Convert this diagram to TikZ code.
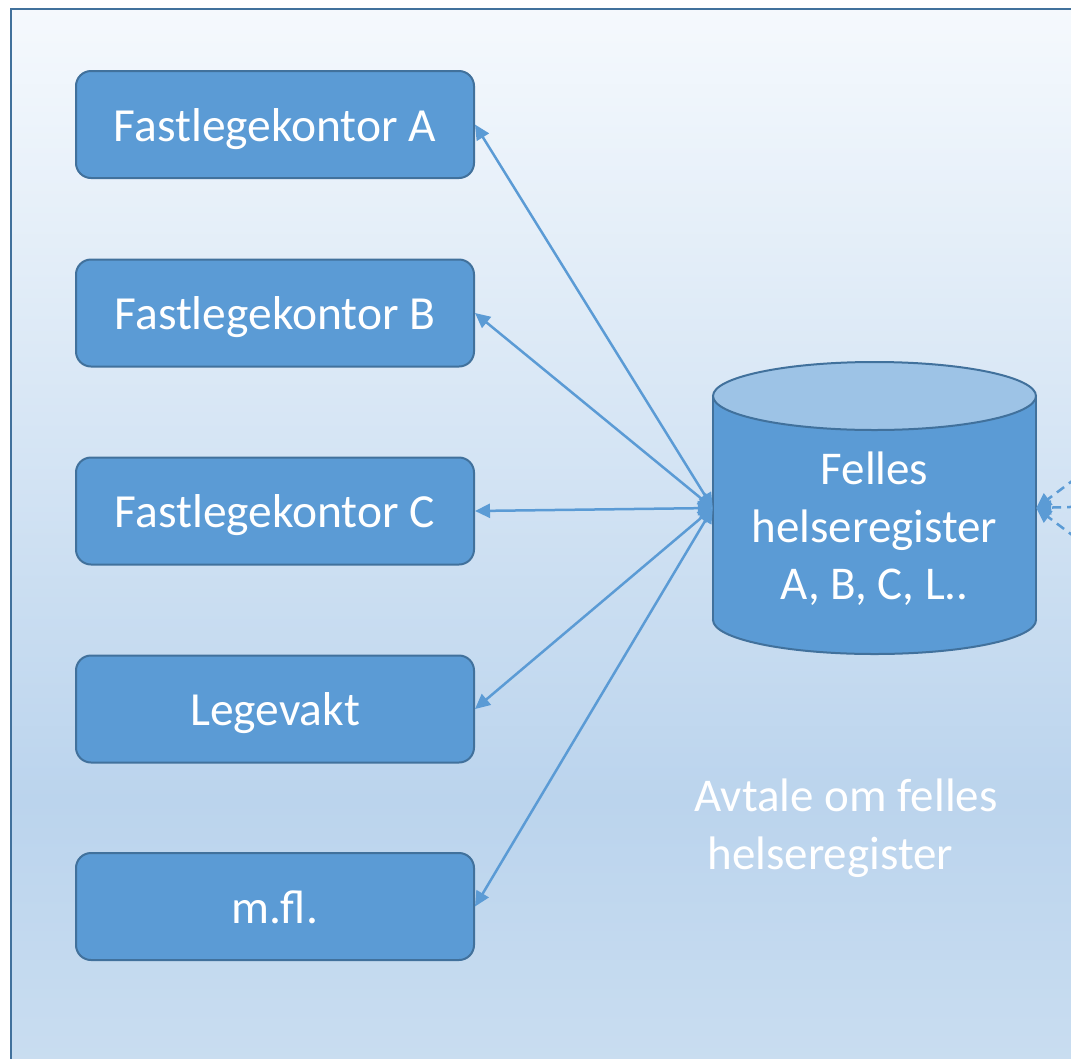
\documentclass[tikz,border=0pt]{standalone}
\usepackage{fontspec}
\setmainfont{Carlito}
\usetikzlibrary{arrows.meta,positioning}
\definecolor{boxblue}{HTML}{5B9BD5}
\definecolor{boxedge}{HTML}{41719C}
\definecolor{lidblue}{HTML}{9DC3E6}
\definecolor{bgtop}{HTML}{F5F9FD}
\definecolor{bgmid}{HTML}{BBD4ED}
\definecolor{bgbot}{HTML}{CCDFF1}
\tikzstyle{office} = [rectangle, rounded corners=15pt, minimum width=398pt, minimum height=107pt, fill=boxblue, draw=boxedge, line width=2pt, text=white, text height=33pt, text depth=0pt, font=\fontsize{47.5}{57.5}\selectfont]
\tikzstyle{label} = [text=white, inner sep=0pt, font=\fontsize{47}{57.5}\selectfont]
\tikzstyle{link} = [color=boxblue, line width=2.5pt, {Triangle[length=15pt,width=14pt]}-{Triangle[length=15pt,width=14pt]}]
\tikzstyle{feed} = [color=boxblue, line width=2.5pt, dash pattern=on 9pt off 6pt, -{Triangle[length=15pt,width=14pt]}]

\begin{document}
\begin{tikzpicture}[x=1pt, y=-1pt]
            \useasboundingbox (0,0) rectangle (1071,1058);
            \clip (0,0) rectangle (1071,1058);
            % background panel
            \shade[top color=bgtop, bottom color=bgmid] (11,9) rectangle (1120,800);
            \shade[top color=bgmid, bottom color=bgbot] (11,799.5) rectangle (1120,1120);
            \draw[boxedge, line width=2pt] (1120,9) -- (11,9) -- (11,1120);

            \node[office] (fa) at (275,124.5) {Fastlegekontor A};
            \node[office] (fb) at (275,313) {Fastlegekontor B};
            \node[office] (fc) at (275,511) {Fastlegekontor C};
            \node[office] (lv) at (275,709) {Legevakt};
            \node[office] (mfl) at (275,906.5) {m.fl.};

            % register cylinder
            \node[minimum width=323pt, minimum height=292pt, inner sep=0pt] (db) at (874.5,508) {};
            \filldraw[fill=boxblue, draw=boxedge, line width=2pt] (874.5,620) ellipse [x radius=161.5, y radius=34];
            \fill[boxblue] (713,396) rectangle (1036,620);
            \draw[boxedge, line width=2pt] (713,396) -- (713,620) (1036,396) -- (1036,620);
            \filldraw[fill=lidblue, draw=boxedge, line width=2pt] (874.5,396) ellipse [x radius=161.5, y radius=34];
            \node[label, align=center] (dbtext) at (874.5,529) {Felles\\helseregister\\A, B, C, L..};

            \node[label, align=left] (deal) at (846,828) {Avtale om felles\\\hspace*{13pt}helseregister};

            \foreach \n in {fa,fb,fc,lv,mfl}
                \draw[link] (db.west) -- (\n.east);

            \coordinate (r1) at (1136,433);
            \coordinate (r2) at (1136,505);
            \coordinate (r3) at (1136,583);
            \foreach \r in {r1,r2,r3}
                \draw[feed] (\r) -- (db.east);
\end{tikzpicture}
\end{document}
